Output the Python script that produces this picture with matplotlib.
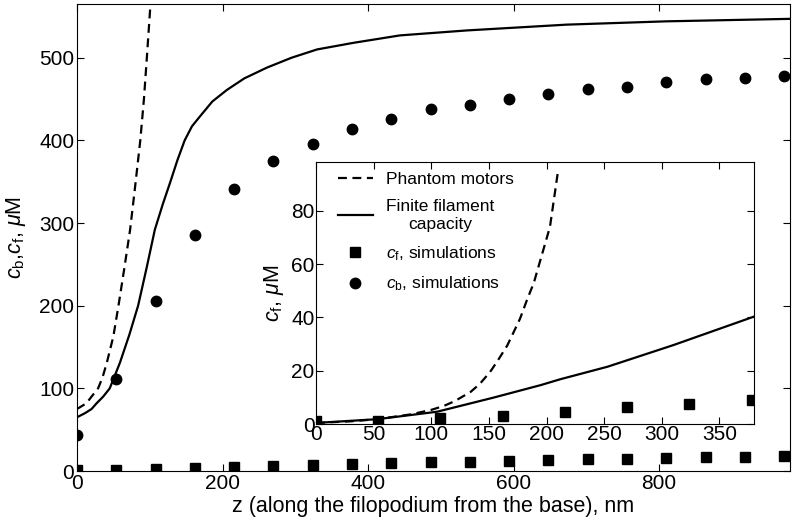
import numpy as np
import matplotlib
matplotlib.use("Agg")
import matplotlib.pyplot as plt

plt.rcParams['font.family'] = ['Liberation Sans', 'DejaVu Sans']
plt.rcParams['mathtext.fontset'] = 'custom'
plt.rcParams['mathtext.rm'] = 'Liberation Sans'
plt.rcParams['mathtext.it'] = 'Liberation Sans:italic'

# simulation points (z in nm)
z_sim = [0, 54, 108, 162, 216, 270, 324, 378, 432, 486, 540, 594, 648, 702, 756, 810, 864, 918, 972]
cb_sim = [44, 111, 206, 286, 341, 375, 396, 414, 426, 438, 443, 450, 456, 462, 465, 471, 474, 476, 478]
cf_sim = [1.2, 1.2, 2.1, 3.1, 4.6, 6.3, 7.4, 9, 10, 11, 11.5, 12.5, 13.5, 14.5, 15, 16, 17, 17.5, 18]

# theory curves, main panel (c_b)
z_fin = [0, 11, 20, 27, 36, 45, 59, 72, 84, 96, 107, 118, 128, 138, 148, 158, 169, 186,
         206, 230, 261, 295, 330, 380, 444, 536, 673, 810, 980]
cb_fin = [65, 70, 75, 82, 90, 100, 131, 165, 200, 247, 292, 323, 349, 376, 400, 417, 429, 447,
          461, 475, 488, 500, 510, 518, 527, 533, 540, 544, 547]
z_ph = [0, 13, 20, 29, 35, 41, 50, 57, 65, 73, 80, 87, 92, 96, 101]
cb_ph = [75, 82, 90, 100, 113, 131, 163, 200, 245, 292, 345, 400, 450, 500, 565]

# theory curves, inset (c_f)
zi_fin = [0, 53, 105, 154, 195, 212, 253, 310, 380]
cf_fin = [0.4, 1.8, 4.6, 9.9, 14.6, 16.8, 21.5, 29.6, 40.3]
zi_ph = [0, 30, 53, 82, 100, 111, 120, 134, 142, 151, 158, 166, 177, 183, 189, 195, 203, 210]
cf_ph = [0.4, 1.0, 1.8, 3.6, 5.3, 6.8, 8.5, 12, 15, 19.5, 24, 29.5, 39.5, 46.5, 53, 62, 74, 95]

fig = plt.figure(figsize=(7.93, 5.30), dpi=100)
ax = fig.add_axes([0.0971, 0.1113, 0.8991, 0.8812])

dash = (0, (4, 2.5))
ax.plot(z_ph, cb_ph, color='black', lw=1.6, linestyle=dash)
ax.plot(z_fin, cb_fin, color='black', lw=1.6)
ax.plot(z_sim, cb_sim, 'o', color='black', ms=7.5)
ax.plot(z_sim, cf_sim, 's', color='black', ms=7)

ax.set_xlim(0, 980)
ax.set_ylim(0, 565)
ax.set_xticks([0, 200, 400, 600, 800])
ax.set_yticks([0, 100, 200, 300, 400, 500])
ax.tick_params(direction='in', top=True, right=True, length=5, labelsize=15, pad=2)
ax.set_xlabel('z (along the filopodium from the base), nm', fontsize=15.5, labelpad=2)
ax.set_ylabel(r'$c_\mathrm{b}$,$c_\mathrm{f}$, $\mu$M', fontsize=15.5, labelpad=8)

# inset
axi = fig.add_axes([0.3985, 0.2, 0.5523, 0.4943])
axi.plot(zi_ph, cf_ph, color='black', lw=1.6, linestyle=dash, label='Phantom motors')
axi.plot(zi_fin, cf_fin, color='black', lw=1.6, label='Finite filament\ncapacity')
axi.plot(z_sim, cf_sim, 's', color='black', ms=7, label=r'$c_\mathrm{f}$, simulations')
axi.plot([], [], 'o', color='black', ms=7.5, label=r'$c_\mathrm{b}$, simulations')
axi.set_xlim(0, 380)
axi.set_ylim(0, 98.3)
axi.set_xticks([0, 50, 100, 150, 200, 250, 300, 350])
axi.set_yticks([0, 20, 40, 60, 80])
axi.tick_params(direction='in', top=True, right=True, length=5, labelsize=15, pad=1)
axi.set_ylabel(r'$c_\mathrm{f}$, $\mu$M', fontsize=15.5, labelpad=4)

leg = axi.legend(loc='upper left', bbox_to_anchor=(0.042, 0.975), frameon=False,
                 fontsize=12.5, handlelength=2.0, handletextpad=0.8, labelspacing=0.7,
                 borderaxespad=0, borderpad=0.2)
leg.get_texts()[1].set_multialignment('center')

fig.savefig('out.png', dpi=100)
